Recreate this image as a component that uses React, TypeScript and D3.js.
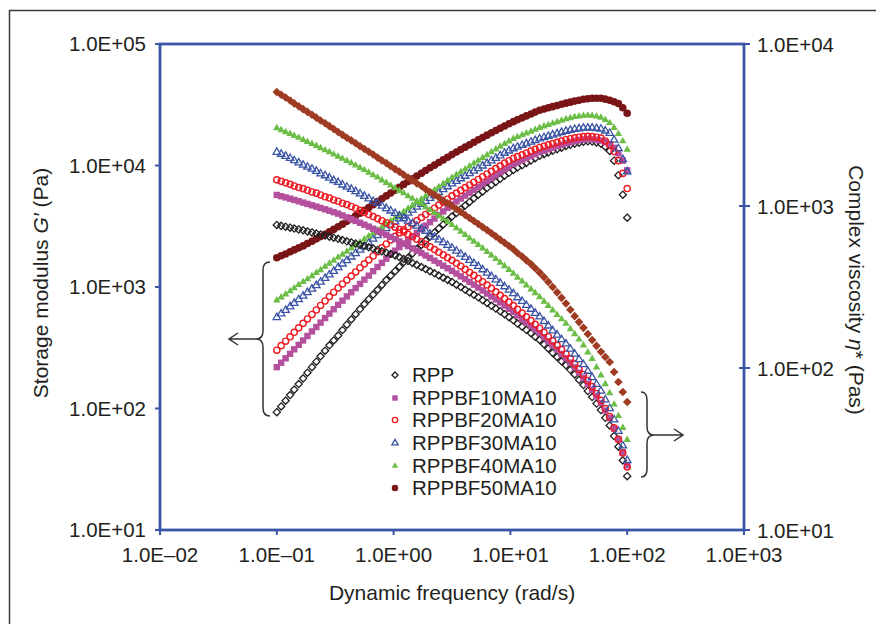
import React from 'react';
import * as d3 from 'd3';

// Dynamic frequency (rad/s)
const freq = [0.1, 0.109, 0.119, 0.130, 0.141, 0.154, 0.168, 0.183, 0.2, 0.218, 0.237, 0.259, 0.282, 0.307, 0.335, 0.365, 0.398, 0.434, 0.473, 0.516, 0.562, 0.613, 0.668, 0.729, 0.794, 0.866, 0.944, 1.03, 1.12, 1.22, 1.33, 1.45, 1.58, 1.73, 1.88, 2.05, 2.24, 2.44, 2.66, 2.90, 3.16, 3.45, 3.76, 4.10, 4.47, 4.87, 5.31, 5.79, 6.31, 6.88, 7.5, 8.18, 8.91, 9.72, 10.6, 11.5, 12.6, 13.7, 15.0, 16.3, 17.8, 19.4, 21.1, 23.0, 25.1, 27.4, 29.9, 32.6, 35.5, 38.7, 42.2, 46.0, 50.1, 54.6, 59.6, 64.9, 70.8, 77.2, 84.1, 91.7, 100];

// Storage modulus G' (Pa) - left axis
const gRPP = [93.3, 104, 116, 129, 143, 159, 177, 197, 219, 243, 269, 299, 331, 363, 398, 442, 490, 541, 597, 658, 724, 793, 867, 948, 1040, 1140, 1240, 1350, 1470, 1600, 1740, 1890, 2050, 2220, 2410, 2600, 2810, 3030, 3270, 3520, 3800, 4070, 4370, 4680, 5010, 5370, 5750, 6120, 6520, 6910, 7330, 7770, 8240, 8700, 9180, 9610, 10050, 10510, 10990, 11500, 12020, 12400, 12790, 13200, 13610, 14030, 14450, 14790, 15140, 15400, 15670, 15810, 15740, 15490, 15140, 14290, 13180, 10960, 8320, 5750, 3720];
const gBF10 = [219, 238, 259, 282, 307, 334, 363, 395, 431, 468, 509, 555, 604, 656, 713, 772, 836, 905, 980, 1060, 1150, 1240, 1350, 1460, 1580, 1710, 1850, 1990, 2130, 2280, 2440, 2610, 2790, 2990, 3200, 3420, 3660, 3910, 4190, 4480, 4790, 5060, 5350, 5650, 5970, 6310, 6670, 7050, 7450, 7870, 8320, 8790, 9290, 9760, 10260, 10650, 11070, 11500, 11940, 12400, 12880, 13240, 13610, 14000, 14390, 14790, 15210, 15520, 15850, 16130, 16410, 16480, 16410, 16250, 16030, 15560, 14960, 13960, 12590, 10960, 9120];
const gBF20 = [302, 329, 358, 389, 424, 461, 502, 546, 594, 647, 705, 767, 834, 905, 982, 1060, 1140, 1230, 1330, 1440, 1550, 1670, 1800, 1950, 2100, 2260, 2440, 2610, 2780, 2950, 3130, 3320, 3520, 3730, 3950, 4190, 4450, 4720, 5000, 5300, 5620, 5920, 6240, 6570, 6920, 7290, 7670, 8080, 8510, 8960, 9440, 9940, 10470, 10940, 11430, 11830, 12250, 12680, 13120, 13580, 14060, 14420, 14790, 15140, 15490, 15890, 16290, 16600, 16900, 17100, 17300, 17380, 17300, 17100, 16790, 15920, 14790, 13030, 10960, 8610, 6460];
const gBF30 = [562, 602, 644, 689, 736, 788, 843, 902, 964, 1030, 1100, 1180, 1260, 1350, 1450, 1550, 1650, 1770, 1890, 2020, 2160, 2310, 2480, 2650, 2830, 3030, 3240, 3440, 3650, 3850, 4070, 4310, 4550, 4810, 5080, 5370, 5680, 6000, 6340, 6700, 7080, 7430, 7800, 8180, 8590, 9020, 9460, 9930, 10420, 10940, 11480, 12050, 12650, 13200, 13770, 14210, 14660, 15120, 15600, 16090, 16600, 17000, 17420, 17850, 18280, 18730, 19190, 19530, 19860, 20090, 20320, 20370, 20420, 20180, 19950, 19280, 18410, 16220, 13800, 11220, 8910];
const gBF40 = [776, 822, 871, 923, 977, 1040, 1100, 1160, 1230, 1310, 1380, 1470, 1560, 1650, 1750, 1850, 1960, 2080, 2200, 2330, 2470, 2620, 2770, 2940, 3110, 3300, 3490, 3700, 3930, 4160, 4420, 4680, 4970, 5270, 5580, 5920, 6280, 6660, 7060, 7490, 7940, 8390, 8850, 9330, 9840, 10390, 10960, 11560, 12190, 12870, 13580, 14320, 15100, 15830, 16600, 17180, 17780, 18410, 19050, 19720, 20420, 20990, 21580, 22180, 22800, 23440, 24100, 24600, 25120, 25410, 25700, 25820, 25700, 25350, 24830, 23710, 22390, 20420, 18200, 15850, 13490];
const gBF50 = [1740, 1810, 1870, 1950, 2020, 2100, 2180, 2280, 2380, 2490, 2600, 2720, 2840, 2980, 3130, 3290, 3470, 3650, 3850, 4050, 4270, 4510, 4760, 5040, 5320, 5620, 5940, 6270, 6620, 6990, 7380, 7780, 8200, 8640, 9100, 9570, 10070, 10580, 11120, 11690, 12300, 12900, 13520, 14160, 14830, 15540, 16290, 17020, 17780, 18580, 19410, 20250, 21130, 22030, 22960, 23790, 24660, 25590, 26550, 27510, 28510, 29170, 29850, 30510, 31190, 31880, 32590, 33230, 33880, 34480, 35080, 35480, 35730, 35810, 35730, 35160, 34440, 33500, 32360, 29850, 26920];

// Complex viscosity eta* (Pa s) - right axis
const etaRPP = [764, 754, 745, 735, 726, 717, 708, 697, 687, 677, 667, 657, 647, 637, 627, 616, 605, 596, 586, 576, 566, 556, 546, 535, 525, 515, 506, 495, 484, 471, 457, 445, 433, 420, 408, 396, 384, 372, 361, 350, 340, 327, 316, 304, 293, 283, 273, 262, 252, 242, 233, 224, 215, 206, 197, 188, 180, 172, 164, 156, 149, 140, 132, 124, 117, 110, 104, 97.4, 91.2, 84.6, 78.5, 72.1, 66.2, 60.3, 55.0, 49.3, 44.2, 38.0, 32.7, 26.9, 21.5];
const etaBF10 = [1170, 1150, 1130, 1110, 1090, 1070, 1050, 1030, 1010, 991, 973, 954, 935, 916, 897, 874, 851, 830, 809, 788, 767, 746, 724, 703, 682, 663, 644, 624, 604, 585, 566, 548, 530, 512, 495, 478, 460, 444, 428, 413, 398, 383, 368, 354, 340, 327, 314, 301, 288, 276, 265, 254, 243, 232, 222, 211, 200, 191, 182, 173, 164, 155, 146, 138, 130, 122, 115, 108, 101, 93.6, 87.1, 79.9, 73.3, 66.8, 60.8, 54.6, 49.0, 42.2, 36.3, 30.2, 25.1];
const etaBF20 = [1450, 1420, 1390, 1360, 1330, 1300, 1280, 1250, 1220, 1200, 1170, 1140, 1120, 1090, 1070, 1040, 1020, 993, 968, 940, 912, 886, 861, 836, 811, 788, 766, 740, 716, 692, 668, 646, 624, 602, 581, 559, 538, 518, 499, 480, 462, 443, 425, 406, 389, 373, 357, 341, 325, 310, 295, 281, 268, 255, 243, 230, 218, 207, 196, 186, 176, 166, 156, 147, 138, 130, 122, 114, 106, 98.4, 91.2, 83.6, 76.7, 69.6, 63.1, 56.2, 50.1, 42.7, 36.3, 29.9, 24.5];
const etaBF30 = [2150, 2090, 2030, 1970, 1910, 1850, 1790, 1740, 1690, 1640, 1580, 1540, 1490, 1440, 1400, 1350, 1310, 1270, 1230, 1190, 1150, 1110, 1070, 1040, 1000, 966, 933, 901, 869, 838, 807, 779, 752, 725, 700, 671, 644, 619, 596, 572, 550, 527, 505, 483, 462, 443, 425, 405, 386, 368, 351, 334, 318, 303, 288, 272, 258, 244, 231, 218, 207, 194, 182, 170, 160, 150, 141, 131, 122, 113, 105, 95.7, 87.5, 79.4, 72.1, 63.7, 56.2, 47.9, 40.7, 33.1, 26.9];
const etaBF40 = [3030, 2940, 2860, 2790, 2710, 2640, 2560, 2490, 2420, 2350, 2280, 2210, 2150, 2080, 2020, 1960, 1900, 1840, 1780, 1720, 1670, 1610, 1550, 1500, 1440, 1390, 1340, 1290, 1240, 1200, 1150, 1110, 1070, 1030, 986, 945, 906, 868, 832, 797, 764, 729, 695, 663, 632, 603, 575, 548, 521, 496, 471, 448, 426, 404, 383, 362, 343, 324, 306, 290, 274, 257, 242, 227, 213, 200, 188, 174, 162, 150, 138, 125, 114, 101, 90.2, 79.5, 70.1, 59.6, 50.6, 42.7, 36.0];
const etaBF50 = [5060, 4860, 4670, 4480, 4300, 4130, 3960, 3810, 3660, 3510, 3370, 3240, 3110, 2990, 2860, 2750, 2640, 2540, 2440, 2340, 2250, 2160, 2080, 1990, 1910, 1840, 1760, 1690, 1630, 1560, 1500, 1440, 1380, 1330, 1270, 1220, 1170, 1130, 1080, 1040, 1000, 958, 918, 880, 843, 808, 774, 741, 710, 679, 649, 620, 593, 566, 541, 513, 488, 462, 438, 413, 388, 364, 340, 316, 293, 271, 250, 229, 209, 192, 177, 162, 149, 137, 126, 117, 109, 94.5, 82.0, 71.1, 61.7];

const seriesNames = ['RPP', 'RPPBF10MA10', 'RPPBF20MA10', 'RPPBF30MA10', 'RPPBF40MA10', 'RPPBF50MA10'];

const xTicks = [0.01, 0.1, 1, 10, 100, 1000];
const xTickLabels = ['1.0E\u201302', '1.0E\u201301', '1.0E+00', '1.0E+01', '1.0E+02', '1.0E+03'];
const yLeftTicks = [10, 100, 1000, 10000, 100000];
const yLeftLabels = ['1.0E+01', '1.0E+02', '1.0E+03', '1.0E+04', '1.0E+05'];
const yRightTicks = [10, 100, 1000, 10000];
const yRightLabels = ['1.0E+01', '1.0E+02', '1.0E+03', '1.0E+04'];

const FONT = 'Liberation Sans, Arial, Helvetica, sans-serif';
const TXT = '#231f20';
const AXIS = '#3a54a6';

type Kind = 'diamondOpen' | 'squareFill' | 'circleOpen' | 'triOpen' | 'triFill' | 'circleFill' | 'diamondFill';

const styles: { kind: Kind; color: string }[] = [
  { kind: 'diamondOpen', color: '#231f20' },
  { kind: 'squareFill', color: '#b4509e' },
  { kind: 'circleOpen', color: '#ed1c24' },
  { kind: 'triOpen', color: '#3a53a4' },
  { kind: 'triFill', color: '#6abd45' },
  { kind: 'circleFill', color: '#7a1517' },
];
const etaStyles: { kind: Kind; color: string }[] = [
  styles[0], styles[1], styles[2], styles[3], styles[4],
  { kind: 'diamondFill', color: '#9e3b22' },
];

function Marker({ kind, color, cx, cy, s = 1 }: { kind: Kind; color: string; cx: number; cy: number; s?: number }) {
  const t = `translate(${cx},${cy})`;
  switch (kind) {
    case 'diamondOpen': {
      const r = 3.6 * s;
      return <path transform={t} d={`M0,${-r}L${r},0L0,${r}L${-r},0Z`} fill="none" stroke={color} strokeWidth={1.3} />;
    }
    case 'diamondFill': {
      const r = 4.3 * s;
      return <path transform={t} d={`M0,${-r}L${r},0L0,${r}L${-r},0Z`} fill={color} />;
    }
    case 'squareFill': {
      const h = 3.2 * s;
      return <rect x={cx - h} y={cy - h} width={2 * h} height={2 * h} fill={color} />;
    }
    case 'circleOpen':
      return <circle cx={cx} cy={cy} r={3.1 * s} fill="none" stroke={color} strokeWidth={1.4} />;
    case 'circleFill':
      return <circle cx={cx} cy={cy} r={3.8 * s} fill={color} />;
    case 'triOpen':
    case 'triFill': {
      const side = 7.4 * s;
      const h = side * 0.866;
      const d = `M0,${(-2 * h) / 3}L${side / 2},${h / 3}L${-side / 2},${h / 3}Z`;
      return kind === 'triFill'
        ? <path transform={t} d={d} fill={color} />
        : <path transform={t} d={d} fill="none" stroke={color} strokeWidth={1.3} />;
    }
  }
  return null;
}

export default function App() {
  const x = d3.scaleLog().domain([0.01, 1000]).range([160, 744]);
  const yL = d3.scaleLog().domain([10, 1e5]).range([530, 44]);
  const yR = d3.scaleLog().domain([10, 1e4]).range([530, 44]);

  const gSeries = [gRPP, gBF10, gBF20, gBF30, gBF40, gBF50];
  const etaSeries = [etaRPP, etaBF10, etaBF20, etaBF30, etaBF40, etaBF50];

  const [x0, x1] = x.range();
  const [yb, yt] = yL.range();

  const legendY = [375, 398, 420, 443, 466, 488];

  return (
    <svg width={876} height={624} style={{ position: 'absolute', left: 0, top: 0, background: '#fff' }} fontFamily={FONT}>
      <rect x={0} y={0} width={876} height={624} fill="#fff" />
      {/* outer frame */}
      <rect x={9.5} y={10.5} width={900} height={700} fill="none" stroke="#3a3a3a" strokeWidth={1.5} />

      {/* data: G' */}
      {gSeries.map((arr, si) => (
        <g key={'g' + si}>
          {arr.map((v, i) => (
            <Marker key={i} kind={styles[si].kind} color={styles[si].color} cx={x(freq[i])} cy={yL(v)} />
          ))}
        </g>
      ))}
      {/* data: eta* */}
      {etaSeries.map((arr, si) => (
        <g key={'e' + si}>
          {arr.map((v, i) => (
            <Marker key={i} kind={etaStyles[si].kind} color={etaStyles[si].color} cx={x(freq[i])} cy={yR(v)} />
          ))}
        </g>
      ))}

      {/* plot frame */}
      <rect x={x0} y={yt} width={x1 - x0} height={yb - yt} fill="none" stroke={AXIS} strokeWidth={2.8} />
      {/* x ticks */}
      {xTicks.map((t, i) => (
        <g key={'xt' + i}>
          <line x1={x(t)} x2={x(t)} y1={yb} y2={yb + 5} stroke={AXIS} strokeWidth={2} />
          <text x={x(t)} y={562} textAnchor="middle" fontSize={20.5} fill={TXT}>{xTickLabels[i]}</text>
        </g>
      ))}
      {/* left ticks */}
      {yLeftTicks.map((t, i) => (
        <g key={'yl' + i}>
          <line x1={x0 - 5} x2={x0} y1={yL(t)} y2={yL(t)} stroke={AXIS} strokeWidth={2} />
          <text x={146} y={yL(t) + 7.3} textAnchor="end" fontSize={20.5} fill={TXT}>{yLeftLabels[i]}</text>
        </g>
      ))}
      {/* right ticks */}
      {yRightTicks.map((t, i) => (
        <g key={'yr' + i}>
          <line x1={x1 - 5} x2={x1 + 6} y1={yR(t)} y2={yR(t)} stroke={AXIS} strokeWidth={2} />
          <text x={757} y={yR(t) + 7.5} textAnchor="start" fontSize={20.5} fill={TXT}>{yRightLabels[i]}</text>
        </g>
      ))}

      {/* axis titles */}
      <text x={452} y={600} textAnchor="middle" fontSize={21} fill={TXT}>Dynamic frequency (rad/s)</text>
      <text transform="translate(48,283) rotate(-90)" textAnchor="middle" fontSize={21} fill={TXT}>
        Storage  modulus <tspan fontStyle="italic">G′</tspan> (Pa)
      </text>
      <text transform="translate(849,290) rotate(90)" textAnchor="middle" fontSize={21} fill={TXT}>
        Complex viscosity <tspan fontStyle="italic">η</tspan>* (Pas)
      </text>

      {/* brackets */}
      <g fill="none" stroke="#333" strokeWidth={1.5}>
        <path d="M270,262 Q263,262 263,270 L263,331 Q263,339 256,339 Q263,339 263,347 L263,408 Q263,416 270,416" />
        <path d="M256,339 L229,339 M238,333 L229,339 L238,345" />
        <path d="M641,392 Q647,392 647,400 L647,427 Q647,435 654,435 Q647,435 647,443 L647,469 Q647,477 641,477" />
        <path d="M654,435 L683,435 M674,429 L683,435 L674,441" />
      </g>

      {/* legend */}
      {seriesNames.map((name, i) => (
        <g key={'lg' + i}>
          <Marker kind={styles[i].kind} color={styles[i].color} cx={395} cy={legendY[i]} s={0.85} />
          <text x={412} y={legendY[i] + 7.3} fontSize={20.5} fill={TXT}>{name}</text>
        </g>
      ))}
    </svg>
  );
}
